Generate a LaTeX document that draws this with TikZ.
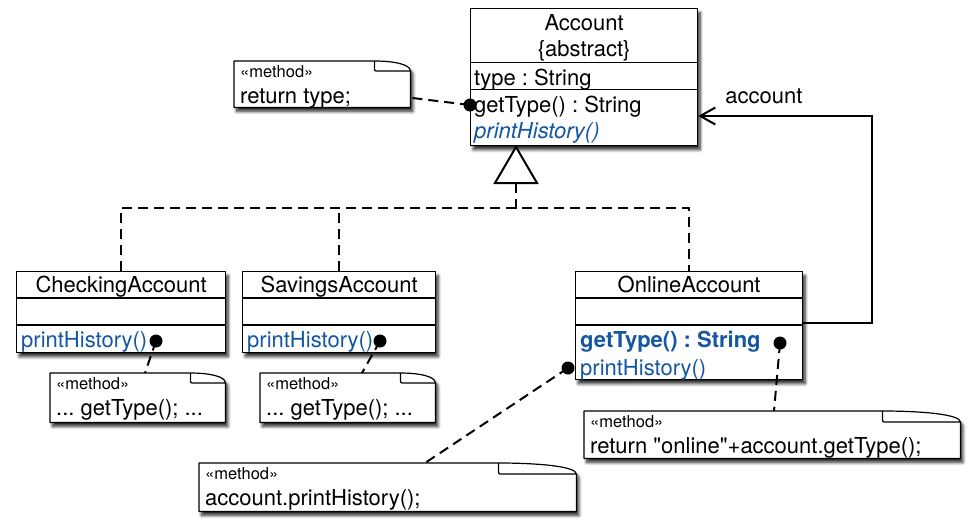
\documentclass[tikz,border=0pt]{standalone}
\usepackage{fontspec}
\newfontfamily\helv{TeX Gyre Heros}
\frenchspacing
\usetikzlibrary{calc,shadows,shadows.blur,arrows.meta}
\definecolor{umlblue}{RGB}{20,86,160}
\tikzset{
  boxshadow/.style={blur shadow={shadow xshift=2.5pt,shadow yshift=-4pt,shadow blur radius=3pt,shadow blur steps=8,shadow opacity=85}},
  classbox/.style={draw=black, fill=white, line width=1.3pt, boxshadow, inner sep=0pt, anchor=north west},
  notearea/.style={inner sep=0pt, anchor=north west},
  noteline/.style={draw=black, fill=white, line width=1.2pt, line join=round},
  divider/.style={line width=1.3pt},
  txt/.style={font=\helv\fontsize{22}{26}\selectfont, inner sep=0pt, anchor=base west},
  txtc/.style={txt, anchor=base},
  stereo/.style={font=\helv\fontsize{16.5}{19}\selectfont, inner sep=0pt, anchor=base west},
  dashline/.style={line width=2pt, dash pattern=on 10pt off 6pt},
  assoc/.style={line width=2pt, -{Straight Barb[length=15pt,width=17pt]}},
}
\newcommand\umlnote[8]{% name, x, y, w, h, foldw, foldh, text
  \node[notearea, minimum width=#4pt, minimum height=#5pt] (#1) at (#2,#3) {};
  \path[noteline, boxshadow] (#1.north west) -- ($(#1.north east)+(-#6,0)$)
    .. controls ($(#1.north east)+(-#6/2,0)$) and ($(#1.north east)+(0,#7*0.3)$) .. ($(#1.north east)+(0,#7)$)
    -- (#1.south east) -- (#1.south west) -- cycle;
  \draw[line width=1.2pt] ($(#1.north east)+(-#6,0)$) -- ($(#1.north east)+(-#6,#7-3)$)
    .. controls ($(#1.north east)+(-#6,#7)$) .. ($(#1.north east)+(-#6+4,#7)$) -- ($(#1.north east)+(0,#7)$);
  \node[stereo] (#1-s) at ($(#1.north west)+(6,16)$) {«method»};
  \node[txt] (#1-t) at ($(#1.north west)+(6,42)$) {#8};
}
\begin{document}
\begin{tikzpicture}[x=1pt,y=-1pt]
\useasboundingbox (0,0) rectangle (974,530);

% ---------- Account ----------
\node[classbox, minimum width=227pt, minimum height=137pt] (acc) at (470,8) {};
\draw[divider] ($(acc.north west)+(0,54.5)$) -- ($(acc.north east)+(0,54.5)$);
\draw[divider] ($(acc.north west)+(0,81.5)$) -- ($(acc.north east)+(0,81.5)$);
\node[txtc] (acc-n) at ($(acc.north)+(0,22)$) {Account};
\node[txtc] (acc-ab) at ($(acc.north)+(0,48)$) {\{abstract\}};
\node[txt] (acc-a) at ($(acc.north west)+(4,77)$) {type : String};
\node[txt] (acc-m1) at ($(acc.north west)+(4,104)$) {getType() : String};
\node[txt, text=umlblue] (acc-m2) at ($(acc.north west)+(4,130)$) {\itshape printHistory()};

% ---------- subclasses ----------
\node[classbox, minimum width=209pt, minimum height=81pt] (chk) at (16,271) {};
\draw[divider] ($(chk.north west)+(0,27)$) -- ($(chk.north east)+(0,27)$);
\draw[divider] ($(chk.north west)+(0,54)$) -- ($(chk.north east)+(0,54)$);
\node[txtc] (chk-n) at ($(chk.north)+(0,21)$) {CheckingAccount};
\node[txt, text=umlblue] (chk-m) at ($(chk.north west)+(5,76)$) {printHistory()};

\node[classbox, minimum width=193pt, minimum height=81pt] (sav) at (242,271) {};
\draw[divider] ($(sav.north west)+(0,27)$) -- ($(sav.north east)+(0,27)$);
\draw[divider] ($(sav.north west)+(0,54)$) -- ($(sav.north east)+(0,54)$);
\node[txtc] (sav-n) at ($(sav.north)+(0,21)$) {SavingsAccount};
\node[txt, text=umlblue] (sav-m) at ($(sav.north west)+(5,76)$) {printHistory()};

\node[classbox, minimum width=227pt, minimum height=108pt] (onl) at (575,271) {};
\draw[divider] ($(onl.north west)+(0,27)$) -- ($(onl.north east)+(0,27)$);
\draw[divider] ($(onl.north west)+(0,54)$) -- ($(onl.north east)+(0,54)$);
\node[txtc] (onl-n) at ($(onl.north)+(0,21)$) {OnlineAccount};
\node[txt, text=umlblue] (onl-m1) at ($(onl.north west)+(5,76)$) {\bfseries getType() : String};
\node[txt, text=umlblue] (onl-m2) at ($(onl.north west)+(5,104)$) {printHistory()};

% ---------- generalization ----------
\coordinate (triapex) at (516,147);
\coordinate (tribase) at (516,183);
\coordinate (jn) at (516,208);
\draw[dashline] (tribase) -- (jn);
\draw[dashline] (chk.north) |- (jn) -| (onl.north);
\draw[dashline] (sav.north) -- (sav.north |- jn);
\draw[line width=2pt, fill=white, line join=miter] (triapex) -- ($(tribase)+(21,0)$) -- ($(tribase)+(-21,0)$) -- cycle;

% ---------- association ----------
\coordinate (onlR) at ($(onl.north east)+(0,52)$);
\coordinate (acorner) at (872,116);
\draw[assoc] (onlR) -| (acorner) -- (acc.east |- acorner);
\node[txtc] (lbl) at ($(acorner)+(-108,-13)$) {account};

% ---------- notes ----------
\umlnote{n1}{234}{61}{176}{46}{36}{10}{return type;}
\umlnote{n2}{50}{373}{175}{49}{35}{10}{... getType(); ...}
\umlnote{n3}{260}{373}{175}{49}{35}{10}{... getType(); ...}
\umlnote{n4}{584}{411}{376}{47}{78}{11}{return "online"+account.getType();}
\umlnote{n5}{199}{463}{377}{48}{78}{11}{account.printHistory();}

% ---------- note anchors ----------
\coordinate (d1) at ($(acc.north west)+(0,97)$);
\coordinate (d2) at ($(chk.north west)+(140,70)$);
\coordinate (d3) at ($(sav.north west)+(138,70)$);
\coordinate (d4) at ($(onl.north west)+(205,72)$);
\coordinate (d5) at ($(onl.north west)+(-7,97)$);
\draw[dashline] (d1) -- ($(n1.north east)+(2,37)$);
\draw[dashline] (d2) -- ($(n2.north west)+(95,0)$);
\draw[dashline] (d3) -- ($(n3.north west)+(102,0)$);
\draw[dashline] (d4) -- ($(n4.north west)+(190,0)$);
\draw[dashline] (d5) -- ($(n5.north west)+(226,0)$);
\foreach \d in {d1,d2,d3,d4,d5} \fill (\d) circle[radius=6.5pt];
\end{tikzpicture}
\end{document}
